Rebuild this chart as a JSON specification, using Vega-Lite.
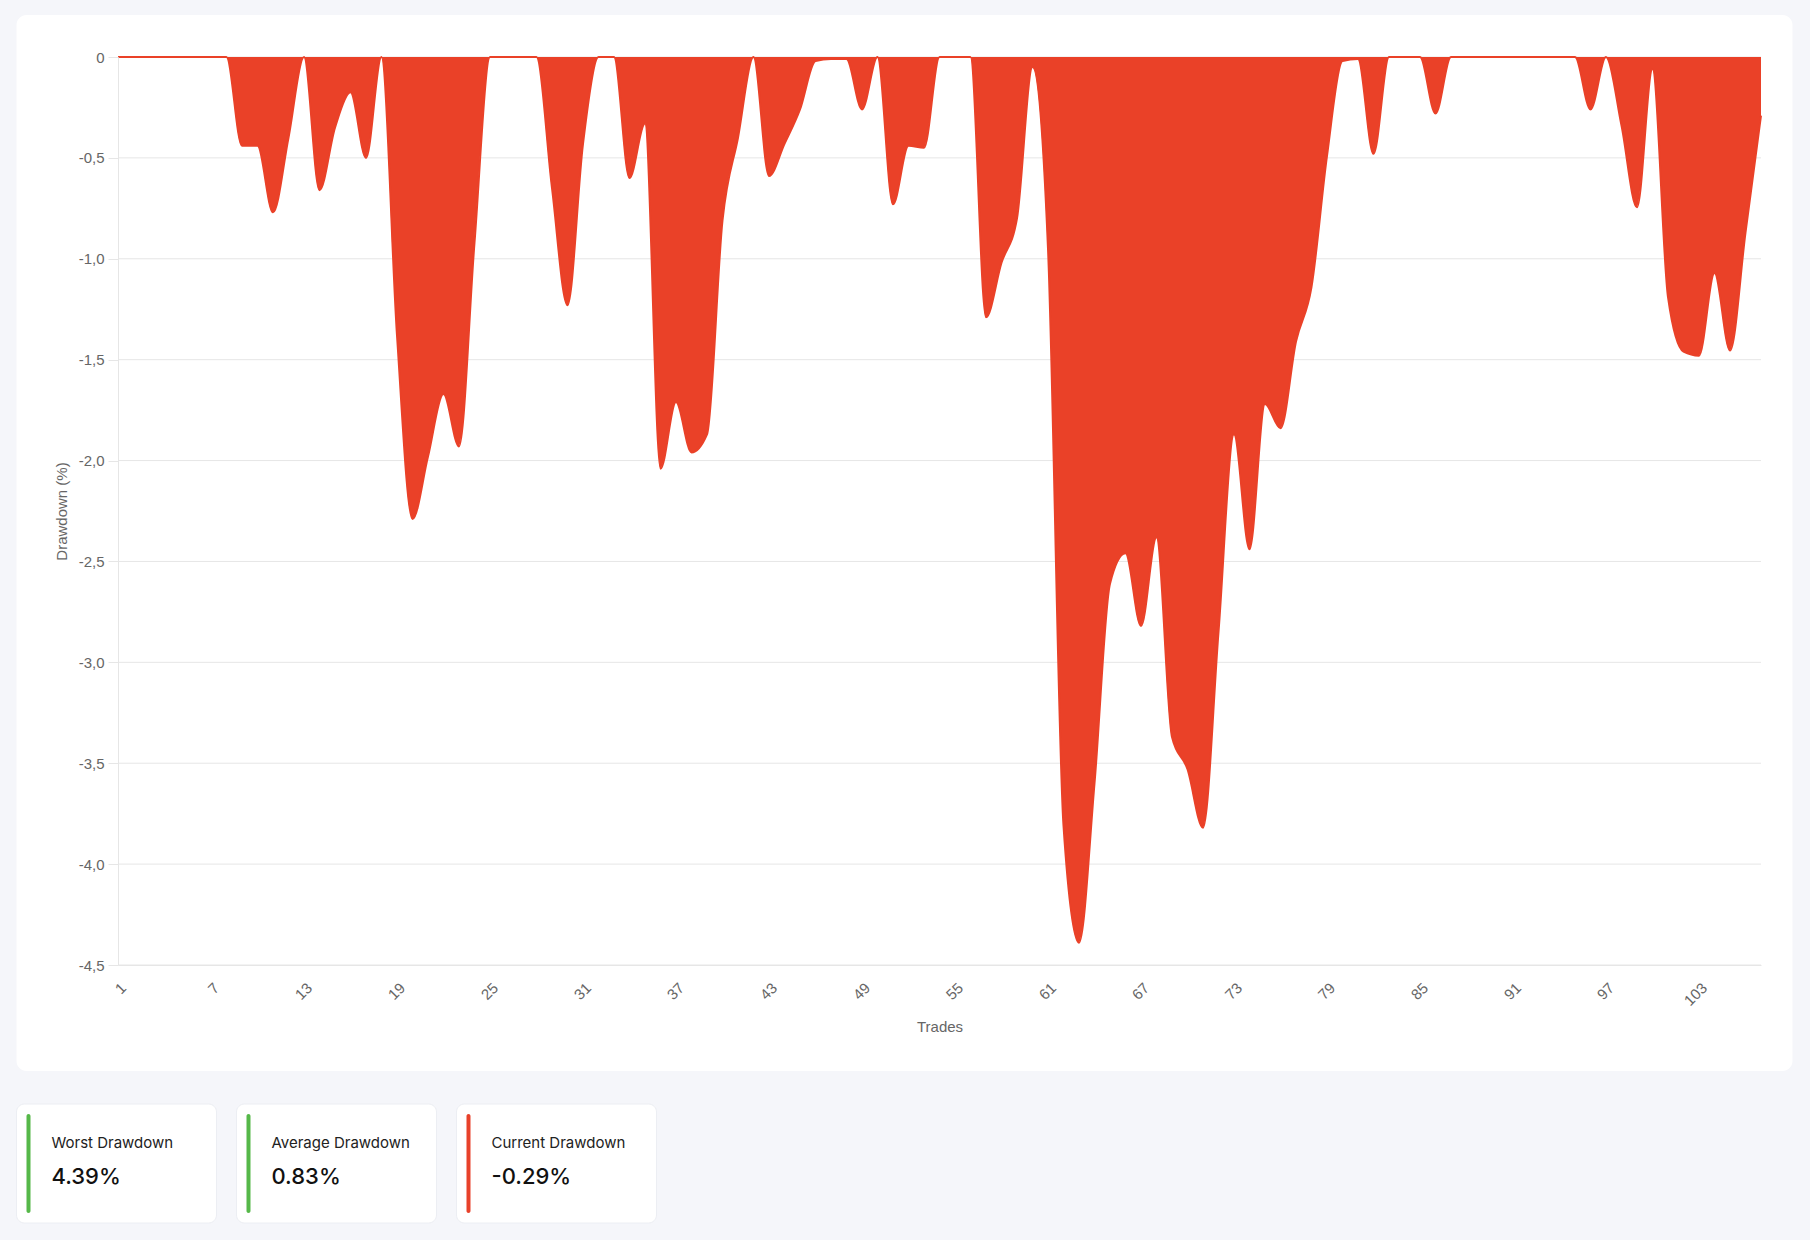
{
  "$schema": "https://vega.github.io/schema/vega-lite/v6.json",
  "background": "#F5F6FA",
  "padding": {"left": 16, "top": 15, "right": 18, "bottom": 18},
  "autosize": {"type": "pad"},
  "config": {"view": {"stroke": null}, "font": "Liberation Sans"},
  "datasets": {
    "drawdown": [
      {"trade": 1, "drawdown": 0}, {"trade": 2, "drawdown": 0}, {"trade": 3, "drawdown": 0}, {"trade": 4, "drawdown": 0},
      {"trade": 5, "drawdown": 0}, {"trade": 6, "drawdown": 0}, {"trade": 7, "drawdown": 0}, {"trade": 8, "drawdown": 0},
      {"trade": 9, "drawdown": -0.44}, {"trade": 10, "drawdown": -0.44}, {"trade": 11, "drawdown": -0.77}, {"trade": 12, "drawdown": -0.4},
      {"trade": 13, "drawdown": 0}, {"trade": 14, "drawdown": -0.66}, {"trade": 15, "drawdown": -0.35}, {"trade": 16, "drawdown": -0.175},
      {"trade": 17, "drawdown": -0.5}, {"trade": 18, "drawdown": 0}, {"trade": 19, "drawdown": -1.38}, {"trade": 20, "drawdown": -2.29},
      {"trade": 21, "drawdown": -1.98}, {"trade": 22, "drawdown": -1.67}, {"trade": 23, "drawdown": -1.93}, {"trade": 24, "drawdown": -0.92},
      {"trade": 25, "drawdown": 0}, {"trade": 26, "drawdown": 0}, {"trade": 27, "drawdown": 0}, {"trade": 28, "drawdown": 0},
      {"trade": 29, "drawdown": -0.65}, {"trade": 30, "drawdown": -1.23}, {"trade": 31, "drawdown": -0.43}, {"trade": 32, "drawdown": 0},
      {"trade": 33, "drawdown": 0}, {"trade": 34, "drawdown": -0.6}, {"trade": 35, "drawdown": -0.33}, {"trade": 36, "drawdown": -2.04},
      {"trade": 37, "drawdown": -1.71}, {"trade": 38, "drawdown": -1.96}, {"trade": 39, "drawdown": -1.87}, {"trade": 40, "drawdown": -0.81},
      {"trade": 41, "drawdown": -0.4}, {"trade": 42, "drawdown": 0}, {"trade": 43, "drawdown": -0.59}, {"trade": 44, "drawdown": -0.43},
      {"trade": 45, "drawdown": -0.26}, {"trade": 46, "drawdown": -0.02}, {"trade": 47, "drawdown": -0.01}, {"trade": 48, "drawdown": -0.01},
      {"trade": 49, "drawdown": -0.26}, {"trade": 50, "drawdown": 0}, {"trade": 51, "drawdown": -0.73}, {"trade": 52, "drawdown": -0.44},
      {"trade": 53, "drawdown": -0.45}, {"trade": 54, "drawdown": 0}, {"trade": 55, "drawdown": 0}, {"trade": 56, "drawdown": 0},
      {"trade": 57, "drawdown": -1.29}, {"trade": 58, "drawdown": -1.02}, {"trade": 59, "drawdown": -0.8}, {"trade": 60, "drawdown": -0.05},
      {"trade": 61, "drawdown": -0.95}, {"trade": 62, "drawdown": -3.81}, {"trade": 63, "drawdown": -4.39}, {"trade": 64, "drawdown": -3.6},
      {"trade": 65, "drawdown": -2.61}, {"trade": 66, "drawdown": -2.46}, {"trade": 67, "drawdown": -2.82}, {"trade": 68, "drawdown": -2.38},
      {"trade": 69, "drawdown": -3.37}, {"trade": 70, "drawdown": -3.53}, {"trade": 71, "drawdown": -3.82}, {"trade": 72, "drawdown": -2.85},
      {"trade": 73, "drawdown": -1.87}, {"trade": 74, "drawdown": -2.44}, {"trade": 75, "drawdown": -1.72}, {"trade": 76, "drawdown": -1.84},
      {"trade": 77, "drawdown": -1.41}, {"trade": 78, "drawdown": -1.14}, {"trade": 79, "drawdown": -0.49}, {"trade": 80, "drawdown": -0.02},
      {"trade": 81, "drawdown": -0.01}, {"trade": 82, "drawdown": -0.48}, {"trade": 83, "drawdown": 0}, {"trade": 84, "drawdown": 0},
      {"trade": 85, "drawdown": 0}, {"trade": 86, "drawdown": -0.28}, {"trade": 87, "drawdown": 0}, {"trade": 88, "drawdown": 0},
      {"trade": 89, "drawdown": 0}, {"trade": 90, "drawdown": 0}, {"trade": 91, "drawdown": 0}, {"trade": 92, "drawdown": 0},
      {"trade": 93, "drawdown": 0}, {"trade": 94, "drawdown": 0}, {"trade": 95, "drawdown": 0}, {"trade": 96, "drawdown": -0.26},
      {"trade": 97, "drawdown": 0}, {"trade": 98, "drawdown": -0.34}, {"trade": 99, "drawdown": -0.745}, {"trade": 100, "drawdown": -0.06},
      {"trade": 101, "drawdown": -1.19}, {"trade": 102, "drawdown": -1.46}, {"trade": 103, "drawdown": -1.48}, {"trade": 104, "drawdown": -1.07},
      {"trade": 105, "drawdown": -1.455}, {"trade": 106, "drawdown": -0.87}, {"trade": 107, "drawdown": -0.29}
    ],
    "grid": [
      {"level": 0}, {"level": -0.5}, {"level": -1}, {"level": -1.5}, {"level": -2},
      {"level": -2.5}, {"level": -3}, {"level": -3.5}, {"level": -4}, {"level": -4.5}
    ],
    "stats": [
      {"metric": "Worst Drawdown", "display": "4.39%", "tone": "good"},
      {"metric": "Average Drawdown", "display": "0.83%", "tone": "good"},
      {"metric": "Current Drawdown", "display": "-0.29%", "tone": "bad"}
    ]
  },
  "vconcat": [
    {
      "width": 1643,
      "height": 908,
      "layer": [
        {
          "data": {"values": [{"panel": "chart"}]},
          "mark": {"type": "rect", "fill": "#FFFFFF", "cornerRadius": 10},
          "encoding": {
            "x": {"datum": -5.548, "type": "quantitative", "scale": {"domain": [1, 107], "nice": false, "zero": false}},
            "x2": {"datum": 109.03},
            "y": {"datum": 0.2081, "type": "quantitative", "scale": {"domain": [-4.5, 0], "nice": false, "zero": false}},
            "y2": {"datum": -5.0253}
          }
        },
        {
          "data": {"name": "grid"},
          "mark": {"type": "rule", "color": "#E6E6E6", "strokeWidth": 1},
          "encoding": {
            "y": {"field": "level", "type": "quantitative", "scale": {"domain": [-4.5, 0], "nice": false, "zero": false}}
          }
        },
        {
          "data": {"name": "drawdown"},
          "mark": {
            "type": "area",
            "interpolate": "monotone",
            "color": "#EA4128",
            "opacity": 1,
            "line": {"color": "#EA4128", "strokeWidth": 2}
          },
          "encoding": {
            "x": {
              "field": "trade",
              "type": "quantitative",
              "scale": {"domain": [1, 107], "nice": false, "zero": false},
              "axis": {
                "title": "Trades",
                "values": [1, 7, 13, 19, 25, 31, 37, 43, 49, 55, 61, 67, 73, 79, 85, 91, 97, 103],
                "format": "d",
                "grid": false,
                "ticks": false,
                "tickSize": 0,
                "domain": true,
                "domainColor": "#E6E6E6",
                "labelAngle": -45,
                "labelAlign": "right",
                "labelBaseline": "middle",
                "labelPadding": 20,
                "labelOffset": 5,
                "labelFlush": false,
                "labelOverlap": false,
                "labelFont": "Liberation Sans",
                "labelFontSize": 15,
                "labelColor": "#666666",
                "titleFont": "Liberation Sans",
                "titleFontSize": 15,
                "titleFontWeight": "normal",
                "titleColor": "#666666",
                "titleY": 66.5,
                "titleBaseline": "alphabetic",
                "zindex": 1
              }
            },
            "y": {
              "field": "drawdown",
              "type": "quantitative",
              "scale": {"domain": [-4.5, 0], "nice": false, "zero": false},
              "axis": {
                "title": "Drawdown (%)",
                "values": [0, -0.5, -1, -1.5, -2, -2.5, -3, -3.5, -4, -4.5],
                "labelExpr": "datum.value == 0 ? '0' : replace(replace(format(datum.value, '.1f'), '.', ','), '\u2212', '-')",
                "grid": false,
                "ticks": true,
                "tickSize": 10,
                "tickColor": "#E6E6E6",
                "domain": true,
                "domainColor": "#E6E6E6",
                "labelPadding": 4,
                "labelFlush": false,
                "labelOverlap": false,
                "labelFont": "Liberation Sans",
                "labelFontSize": 15,
                "labelColor": "#666666",
                "titleFont": "Liberation Sans",
                "titleFontSize": 15,
                "titleFontWeight": "normal",
                "titleColor": "#666666",
                "titleX": -57,
                "titleBaseline": "middle",
                "zindex": 1
              }
            },
            "y2": {"datum": 0}
          }
        }
      ]
    },
    {
      "width": 640,
      "height": 119,
      "data": {"name": "stats"},
      "encoding": {
        "x": {
          "field": "metric",
          "type": "nominal",
          "scale": {
            "type": "band",
            "domain": ["Worst Drawdown", "Average Drawdown", "Current Drawdown"],
            "range": [-101.5, 538.5],
            "paddingInner": 0.0909,
            "paddingOuter": 0
          },
          "axis": null
        }
      },
      "layer": [
        {
          "mark": {"type": "rect", "fill": "#FFFFFF", "cornerRadius": 8, "stroke": "#ECEEF3", "strokeWidth": 1}
        },
        {
          "mark": {"type": "tick", "orient": "vertical", "thickness": 4, "cornerRadius": 2, "xOffset": 12, "opacity": 1},
          "encoding": {
            "x": {"field": "metric", "type": "nominal", "bandPosition": 0},
            "size": {"value": 99},
            "color": {
              "field": "tone",
              "type": "nominal",
              "scale": {"domain": ["good", "bad"], "range": ["#56B849", "#E8412A"]},
              "legend": null
            }
          }
        },
        {
          "mark": {"type": "text", "align": "left", "baseline": "alphabetic", "dx": 35, "dy": -16, "font": "Inter", "fontSize": 15, "color": "#222222"},
          "encoding": {
            "x": {"field": "metric", "type": "nominal", "bandPosition": 0},
            "text": {"field": "metric"}
          }
        },
        {
          "mark": {"type": "text", "align": "left", "baseline": "alphabetic", "dx": 35, "dy": 20, "font": "Inter", "fontSize": 22, "fontWeight": 500, "color": "#111111"},
          "encoding": {
            "x": {"field": "metric", "type": "nominal", "bandPosition": 0},
            "text": {"field": "display"}
          }
        }
      ]
    }
  ],
  "spacing": 32
}
